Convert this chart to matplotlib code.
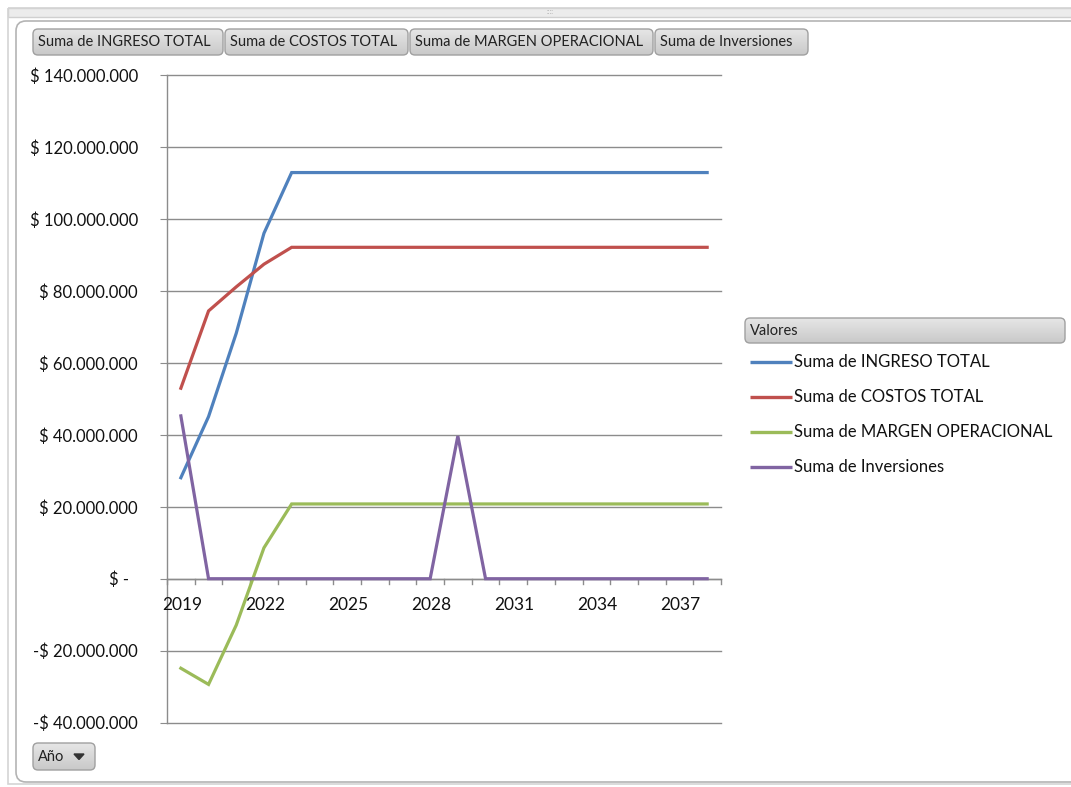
import numpy as np
import matplotlib
matplotlib.use("Agg")
import matplotlib.pyplot as plt
from matplotlib.patches import FancyBboxPatch, Rectangle
from matplotlib.ticker import FixedLocator, FuncFormatter
from matplotlib.colors import LinearSegmentedColormap

# ---------------- data ----------------
years = list(range(2019, 2039))
ingreso = [28.1, 45.1, 68.3, 96.1, 113.0] + [113.0] * 15
costos = [53.0, 74.5, 81.2, 87.5, 92.2] + [92.2] * 15
margen = [-24.9, -29.4, -12.9, 8.6, 20.8] + [20.8] * 15
inversiones = [45.3, 0, 0, 0, 0, 0, 0, 0, 0, 0, 39.7, 0, 0, 0, 0, 0, 0, 0, 0, 0]
series_names = ["Suma de INGRESO TOTAL", "Suma de COSTOS TOTAL",
                "Suma de MARGEN OPERACIONAL", "Suma de Inversiones"]
series_values = [ingreso, costos, margen, inversiones]
colors = ["#4F81BD", "#C0504D", "#9BBB59", "#8064A2"]
yticks_m = [-40, -20, 0, 20, 40, 60, 80, 100, 120, 140]
year_label_step = 3
legend_title = "Valores"
axis_button = "Año"

FONT = ["Lato", "DejaVu Sans"]
plt.rcParams["font.family"] = FONT

W, H = 1071, 787
fig = plt.figure(figsize=(W / 100, H / 100), dpi=100)

# background axes in pixel coords
bg = fig.add_axes([0, 0, 1, 1])
bg.set_xlim(0, W)
bg.set_ylim(H, 0)
bg.axis("off")

# outer frame
bg.add_patch(Rectangle((8, 8), W + 20, 9, facecolor="#ececec", edgecolor="#d0d0d0", lw=1.0))
bg.add_patch(Rectangle((8, 8), W + 20, H - 8 - 3, fill=False, edgecolor="#d4d4d4", lw=1.2))
bg.add_patch(FancyBboxPatch((16, 21), W + 20, 782 - 21, boxstyle="round,pad=0,rounding_size=10",
                            facecolor="white", edgecolor="#b4b4b4", lw=1.2))
bg.text(550, 12, "::::", fontsize=5, color="#b0b0b0", ha="center", va="center")

grad = np.linspace(0, 1, 50).reshape(-1, 1)
cmap = LinearSegmentedColormap.from_list("btn", ["#e6e6e6", "#c9c9c9"])


def button(x0, y0, x1, y1, label, arrow=False, fs=10.5):
    p = FancyBboxPatch((x0, y0), x1 - x0, y1 - y0, boxstyle="round,pad=0,rounding_size=5",
                       facecolor="none", edgecolor="#a0a0a0", lw=1.0, zorder=3)
    bg.add_patch(p)
    im = bg.imshow(grad, cmap=cmap, extent=(x0, x1, y1, y0), aspect="auto", zorder=2)
    im.set_clip_path(p)
    bg.text(x0 + 5, (y0 + y1) / 2 + 0.5, label, fontsize=fs, color="#222222",
            ha="left", va="center", zorder=4)
    if arrow:
        ax_ = x1 - 16
        ay = (y0 + y1) / 2
        bg.fill([ax_ - 5, ax_ + 5, ax_], [ay - 2.5, ay - 2.5, ay + 3], color="#333333", zorder=4)
    bg.set_xlim(0, W)
    bg.set_ylim(H, 0)


btn_x = [(33, 223), (225, 408), (410, 653), (655, 808)]
for (x0, x1), name in zip(btn_x, series_names):
    button(x0, 29, x1, 55, name)
button(33, 743, 95, 770, axis_button, arrow=True)
button(745, 318, 1065, 343, legend_title)

# legend
leg_y = [362, 397, 432, 467]
for yy, name, c in zip(leg_y, series_names, colors):
    bg.plot([750, 792], [yy, yy], color=c, lw=2.4, solid_capstyle="butt")
    bg.text(794, yy, name, fontsize=12, color="#111111", ha="left", va="center")

# main plot axes
L, R, T, B = 167, 721, 75.5, 722.5
ax = fig.add_axes([L / W, 1 - B / H, (R - L) / W, (B - T) / H])
ax.set_facecolor("none")
x = np.arange(len(years))
for vals, c in zip(series_values, colors):
    ax.plot(x, np.array(vals) * 1e6, color=c, lw=2.3, solid_joinstyle="miter", zorder=3)

ax.set_xlim(-0.5, len(years) - 0.5)
ax.set_ylim(yticks_m[0] * 1e6, yticks_m[-1] * 1e6)
ax.yaxis.set_major_locator(FixedLocator([v * 1e6 for v in yticks_m]))


def yfmt(v, pos):
    m = int(round(v / 1e6))
    if m == 0:
        return "$ -  "
    s = f"{abs(m) * 1000000:,}".replace(",", ".")
    return ("-$ " if m < 0 else "$ ") + s


ax.yaxis.set_major_formatter(FuncFormatter(yfmt))
for v in yticks_m:
    ax.axhline(v * 1e6, color="#8c8c8c", lw=1.0, zorder=1, clip_on=False)
for s in ["top", "right", "bottom"]:
    ax.spines[s].set_visible(False)
ax.spines["left"].set_color("#8c8c8c")
ax.spines["left"].set_linewidth(1.0)
ax.tick_params(axis="y", length=5, color="#8c8c8c", labelsize=12, labelcolor="#111111", pad=16)

# x axis at zero
ax.axhline(0, color="#8c8c8c", lw=1.0, zorder=2)
ax.set_xticks([])
for b in np.arange(-0.5, len(years) - 0.4, 1.0):
    ax.plot([b, b], [0, -1.6e6], color="#8c8c8c", lw=1.0, clip_on=False, zorder=2)
for i, yr in enumerate(years):
    if i % year_label_step == 0:
        ax.text(i + 0.05, -5.0e6, str(yr), fontsize=12.5, color="#111111", ha="center", va="top")

fig.savefig("out.png", dpi=100)
